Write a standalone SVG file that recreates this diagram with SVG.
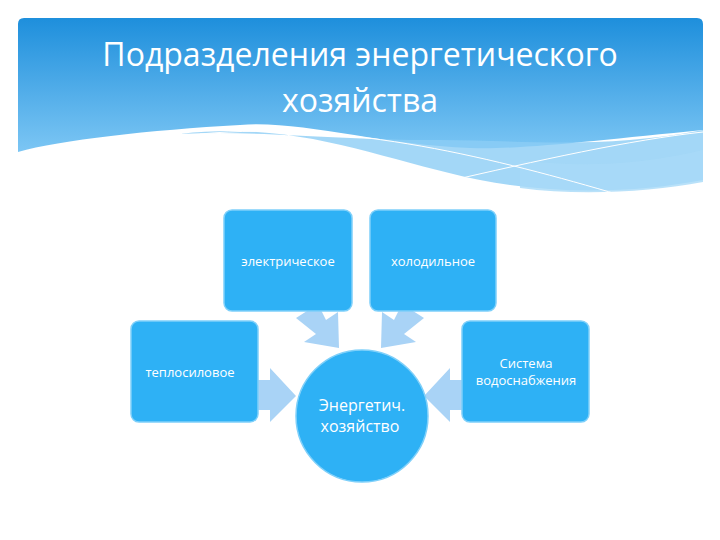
<svg xmlns="http://www.w3.org/2000/svg" width="720" height="540" viewBox="0 0 720 540">
<defs>
<linearGradient id="bg" x1="0" y1="0" x2="0" y2="1"><stop offset="0" stop-color="#1e8fdc"/><stop offset="1" stop-color="#7cc6f4"/></linearGradient>
<style>
.box{fill:#2eb1f5;stroke:#7fd0fa;stroke-width:1.5}
.t{font-family:"Open Sans","DejaVu Sans",sans-serif;fill:#fff;text-anchor:middle}
.ar{fill:#a9d3f6}
</style>
</defs>
<rect width="720" height="540" fill="#fff"/>
<path d="M24,18 H697 Q703,18 703,24 V130 C600,140 520,150 470,148 C380,145 300,120 240,125 C150,130 60,140 18,152 V24 Q18,18 24,18 Z" fill="url(#bg)"/>
<path d="M180,134 C300,120 380,160 480,180 C560,196 640,192 703,180 V130 C600,150 520,140 440,140 C330,140 260,130 180,134 Z" fill="#8ccdf5" opacity="0.8"/>
<path d="M520,160 C600,170 660,160 703,150 V182 C650,192 580,196 520,188 Z" fill="#a7daf8" opacity="0.8"/>
<path d="M200,134 C350,120 500,160 620,195" fill="none" stroke="#fff" stroke-width="1"/>
<path d="M440,183 C540,160 630,140 703,132" fill="none" stroke="#fff" stroke-width="1"/>
<text class="t" x="360" y="66" font-size="32">Подразделения энергетического</text>
<text class="t" x="360" y="112" font-size="32">хозяйства</text>
<g id="connectors">
<polygon class="ar" points="296,318 318,304 326,320 338,312 339,348 304,342 316,334"/>
<polygon class="ar" points="424,318 402,304 394,320 382,312 381,348 416,342 404,334"/>
<polygon class="ar" points="258,380 270,380 270,368 296,396 270,422 270,410 258,410"/>
<polygon class="ar" points="462,380 450,380 450,368 424,396 450,422 450,410 462,410"/>
</g>
<g id="n-el"><rect class="box" x="224" y="210" width="128" height="101" rx="8"/><text class="t" x="288" y="266" font-size="13">электрическое</text></g>
<g id="n-hol"><rect class="box" x="370" y="210" width="126" height="101" rx="8"/><text class="t" x="433" y="266" font-size="13">холодильное</text></g>
<g id="n-tep"><rect class="box" x="131" y="321" width="127" height="101" rx="8"/><text class="t" x="190" y="377" font-size="13">теплосиловое</text></g>
<g id="n-vod"><rect class="box" x="462" y="321" width="127" height="101" rx="8"/><text class="t" x="526" y="368" font-size="13">Система</text><text class="t" x="526" y="385" font-size="13">водоснабжения</text></g>
<g id="n-center"><circle cx="362" cy="416" r="66" fill="#2eb1f5" stroke="#7fd0fa" stroke-width="1.5"/><text class="t" x="362" y="411" font-size="16">Энергетич.</text><text class="t" x="360" y="432" font-size="16">хозяйство</text></g>
</svg>
